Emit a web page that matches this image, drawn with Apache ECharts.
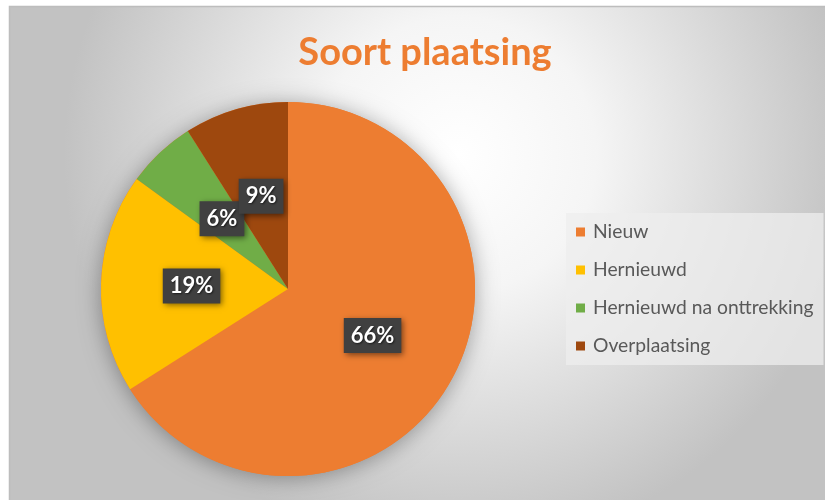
<!DOCTYPE html>
<html>
<head>
<meta charset="utf-8">
<script src="https://cdn.jsdelivr.net/npm/echarts@6/dist/echarts.min.js"></script>
<style>html,body{margin:0;padding:0;background:#fff;}#c{width:825px;height:500px;}</style>
</head>
<body>
<div id="c"></div>
<script>
var categories = ['Nieuw', 'Hernieuwd', 'Hernieuwd na onttrekking', 'Overplaatsing'];
var values = [66, 19, 6, 9];
var colors = ['#ED7D31', '#FFC000', '#70AD47', '#9E480E'];
var titleText = 'Soort plaatsing';

var chart = echarts.init(document.getElementById('c'), null, {renderer: 'canvas'});
var data = categories.map(function (n, i) {
  return {name: n, value: values[i], itemStyle: {color: colors[i]}};
});
chart.setOption({
  animation: false,
  graphic: [
    {type: 'rect', z: -10, shape: {x: 10, y: 7, width: 815, height: 493},
     style: {fill: {type: 'radial', x: 0.55, y: 0.3, r: 0.8,
       colorStops: [{offset: 0, color: '#ffffff'}, {offset: 0.35, color: '#f5f5f5'}, {offset: 1, color: '#c2c2c2'}]}}},
    {type: 'polyline', z: -9, shape: {points: [[9.5, 500], [9.5, 6.5], [825, 6.5]]},
     style: {stroke: '#bdbdbd', lineWidth: 1.5, fill: null}}
  ],
  title: {text: titleText, left: 420, top: 29, textAlign: 'center',
    textStyle: {color: '#ED7D31', fontFamily: 'Lato', fontWeight: 'bold', fontSize: 38}},
  legend: {
    data: categories, orient: 'vertical', left: 566, top: 213,
    padding: [9, 10, 9, 10], itemGap: 18, itemWidth: 9, itemHeight: 9, icon: 'rect',
    backgroundColor: 'rgba(238,238,238,0.75)',
    textStyle: {color: '#595959', fontFamily: 'Lato', fontSize: 19.3, lineHeight: 20, padding: [0, 0, 0, 3]}
  },
  series: [
    {type: 'pie', silent: true, center: [288, 289], radius: 187, z: 1,
     label: {show: false}, labelLine: {show: false},
     data: [{name: '_bg', value: 1, itemStyle: {color: '#ED7D31', shadowBlur: 22, shadowColor: 'rgba(0,0,0,0.35)', shadowOffsetY: 2}}]},
    {type: 'pie', center: [288, 289], radius: 187, startAngle: 90, clockwise: true, z: 2,
     avoidLabelOverlap: false,
     labelLayout: {hideOverlap: false},
     data: data,
     itemStyle: {borderWidth: 0},
     label: {position: 'inside', formatter: '{c}%', color: '#ffffff', fontFamily: 'Lato', fontWeight: 'bold',
       fontSize: 22, lineHeight: 24, backgroundColor: '#404040', padding: [6, 7, 5, 7],
       shadowBlur: 6, shadowColor: 'rgba(0,0,0,0.5)', shadowOffsetX: 2, shadowOffsetY: 2,
       textShadowBlur: 2, textShadowColor: 'rgba(0,0,0,0.6)', textShadowOffsetX: 1, textShadowOffsetY: 1},
     labelLine: {show: false}}
  ]
});
</script>
</body>
</html>
